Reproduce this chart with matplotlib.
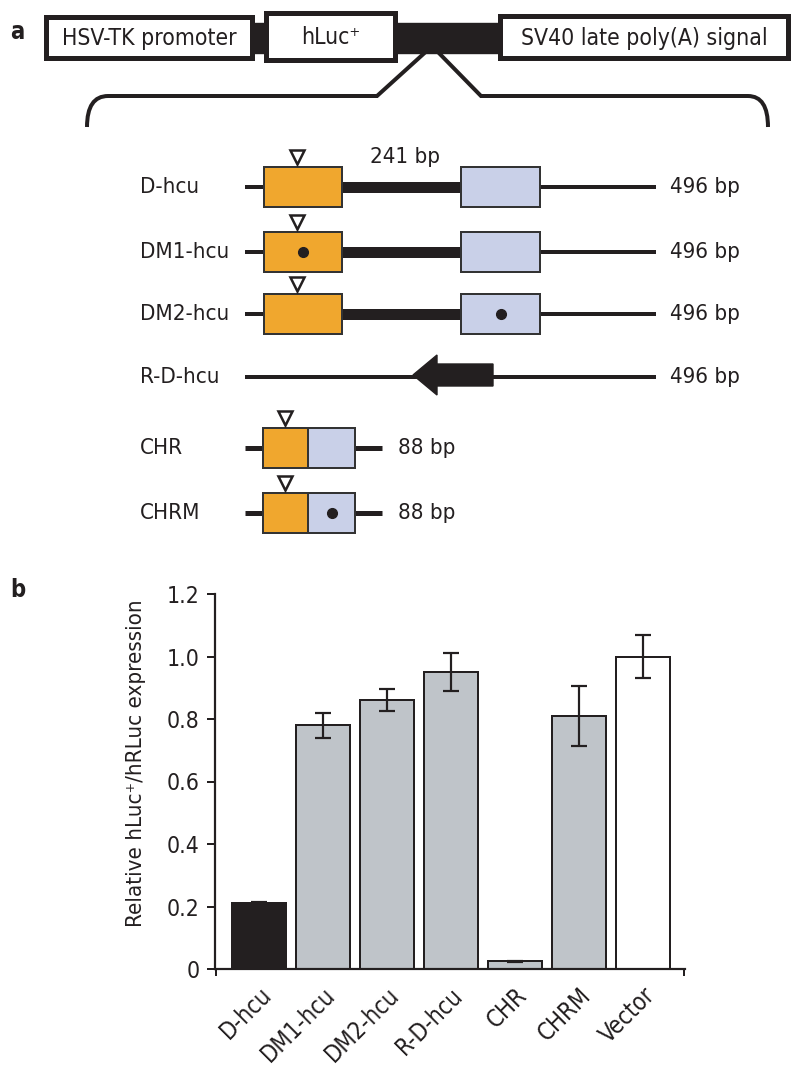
import matplotlib
matplotlib.use("Agg")
import matplotlib.pyplot as plt
from matplotlib import font_manager
from matplotlib.patches import Rectangle, PathPatch, FancyArrow
from matplotlib.path import Path

# ---- data -------------------------------------------------------------
top_parts = ["HSV-TK promoter", "hLuc\u207a", "SV40 late poly(A) signal"]

constructs = ["D-hcu", "DM1-hcu", "DM2-hcu", "R-D-hcu", "CHR", "CHRM"]
lengths = ["496 bp", "496 bp", "496 bp", "496 bp", "88 bp", "88 bp"]
layouts = ["long", "long", "long", "reverse", "short", "short"]
dot_in = [None, 0, 1, None, None, 1]   # which box carries the mutation dot
spacer_label = "241 bp"

samples = ["D-hcu", "DM1-hcu", "DM2-hcu", "R-D-hcu", "CHR", "CHRM", "Vector"]
expression = [0.21, 0.78, 0.86, 0.95, 0.025, 0.81, 1.0]
errors = [0.005, 0.04, 0.035, 0.06, 0.002, 0.095, 0.07]
yticks = [0, 0.2, 0.4, 0.6, 0.8, 1.0, 1.2]
ytick_labels = ["0", "0.2", "0.4", "0.6", "0.8", "1.0", "1.2"]


def pick_font():
    """Prefer a condensed sans face, like the one in the original figure."""
    fonts = font_manager.fontManager.ttflist
    for f in fonts:
        low = f.fname.lower()
        if ("condensed" in low or "narrow" in low) and f.weight in (400, "normal", "regular") \
                and f.style == "normal" and "mono" not in low and "serif" not in f.name.lower():
            return f.name, f.stretch
    return "Roboto", "normal"


# ---- style ------------------------------------------------------------
font_name, font_stretch = pick_font()
plt.rcParams["font.family"] = [font_name, "DejaVu Sans"]
plt.rcParams["font.stretch"] = font_stretch

DARK = "#231f20"
ORANGE = "#f0a72e"
LAVENDER = "#c9d0e8"
GREY = "#bfc4c9"
bar_colors = [DARK, GREY, GREY, GREY, GREY, GREY, "white"]
PX = 0.72  # points per pixel at dpi 100
XLIM = (-0.69, 6.66)

fig = plt.figure(figsize=(8, 10.66), dpi=100)

# ---- panel a: schematic, drawn in pixel coordinates -------------------
ax = fig.add_axes([0, 0, 1, 1])
ax.set_xlim(0, 800)
ax.set_ylim(1066, 0)
ax.axis("off")

ax.text(10, 32, "a", fontsize=17, fontweight="bold", va="center", color=DARK,
        family="DejaVu Sans")

# backbone band and the three boxes
ax.add_patch(Rectangle((248, 23), 258, 30, color=DARK, zorder=1))
top_boxes = [(46, 17, 206, 41), (266, 13, 129, 47), (500, 16, 288, 42)]
for (x0, y0, w, h), name in zip(top_boxes, top_parts):
    ax.add_patch(Rectangle((x0, y0), w, h, facecolor="white", edgecolor=DARK,
                           linewidth=5 * PX, zorder=2))
    ax.text(x0 + w / 2, y0 + h / 2 + 1, name, fontsize=16.5, ha="center",
            va="center", color=DARK, zorder=3)

# expansion bracket
left = Path([(430, 48), (377, 96), (108, 96), (87, 96), (87, 127)],
            [Path.MOVETO, Path.LINETO, Path.LINETO, Path.CURVE3, Path.CURVE3])
right = Path([(434, 48), (481, 96), (748, 96), (768, 96), (768, 127)],
             [Path.MOVETO, Path.LINETO, Path.LINETO, Path.CURVE3, Path.CURVE3])
for p in (left, right):
    ax.add_patch(PathPatch(p, facecolor="none", edgecolor=DARK,
                           linewidth=4 * PX, capstyle="butt", joinstyle="miter"))

row_y = [187, 252, 314, 377, 448, 513]
box_h = 40
tri_x, tri_y, dot_x, dot_y = [], [], [], []
for name, size, kind, dot, y in zip(constructs, lengths, layouts, dot_in, row_y):
    ax.text(140, y, name, fontsize=16, va="center", color=DARK)
    if kind == "short":
        ax.plot([245, 382], [y, y], color=DARK, lw=5 * PX, solid_capstyle="butt")
        boxes = [(263, 45, ORANGE), (308, 47, LAVENDER)]
        ax.text(398, y, size, fontsize=16, va="center", color=DARK)
    else:
        ax.plot([245, 656], [y, y], color=DARK, lw=4 * PX, solid_capstyle="butt")
        ax.text(670, y, size, fontsize=16, va="center", color=DARK)
        boxes = []
        if kind == "long":
            ax.plot([342, 462], [y, y], color=DARK, lw=11 * PX, solid_capstyle="butt")
            boxes = [(264, 78, ORANGE), (461, 79, LAVENDER)]
    for i, (bx0, bw, c) in enumerate(boxes):
        ax.add_patch(Rectangle((bx0, y - box_h / 2), bw, box_h, facecolor=c,
                               edgecolor="#333333", linewidth=2 * PX, zorder=3))
        if dot == i:
            dot_x.append(bx0 + bw / 2)
            dot_y.append(y)
    if boxes:
        tri_x.append(boxes[0][0] + (33 if kind == "long" else 22))
        tri_y.append(y - box_h / 2 - 10)
    if kind == "reverse":
        ax.add_patch(FancyArrow(493, y - 2, -80, 0, width=22, head_width=40,
                                head_length=24, length_includes_head=True,
                                color=DARK, zorder=3))

ax.plot(tri_x, tri_y, "v", ms=10, mfc="white", mec=DARK, mew=1.8, zorder=4)
ax.plot(dot_x, dot_y, "o", ms=7, color=DARK, zorder=4)
ax.text(405, 157, spacer_label, fontsize=16, ha="center", va="center", color=DARK)

# ---- panel b: bar chart -----------------------------------------------
ax.text(10, 590, "b", fontsize=17, fontweight="bold", va="center", color=DARK,
        family="DejaVu Sans")

bx = fig.add_axes([215 / 800, 97 / 1066, 470 / 800, 375 / 1066])
bx.patch.set_alpha(0)
pos = list(range(len(samples)))
bx.bar(pos, expression, width=0.84, color=bar_colors, edgecolor=DARK,
       linewidth=2 * PX, zorder=2)
bx.errorbar(pos, expression, yerr=errors, fmt="none", ecolor=DARK,
            elinewidth=2.2 * PX, capsize=6, capthick=2.2 * PX, zorder=3)
bx.set_ylim(0, 1.2)
bx.set_xlim(*XLIM)
bx.set_yticks(yticks, ytick_labels, fontsize=16.5, color=DARK)
bx.set_xticks(pos)
bx.set_xticklabels(samples, rotation=45, ha="right", rotation_mode="anchor",
                   fontsize=17, color=DARK)
bx.set_xticks([XLIM[0] + 0.01, XLIM[1] - 0.01], minor=True)
bx.tick_params(axis="x", which="major", length=0, pad=10)
bx.tick_params(axis="x", which="minor", length=5, width=2 * PX, color=DARK)
bx.tick_params(axis="y", length=6, width=2 * PX, color=DARK, pad=5)
bx.set_ylabel("Relative hLuc\u207a/hRLuc expression", fontsize=16, color=DARK)
bx.yaxis.set_label_coords(-0.146, 0.549)
for side in ("top", "right"):
    bx.spines[side].set_visible(False)
for side in ("left", "bottom"):
    bx.spines[side].set_linewidth(2.2 * PX)
    bx.spines[side].set_color(DARK)

fig.savefig("out.png", dpi=100)
